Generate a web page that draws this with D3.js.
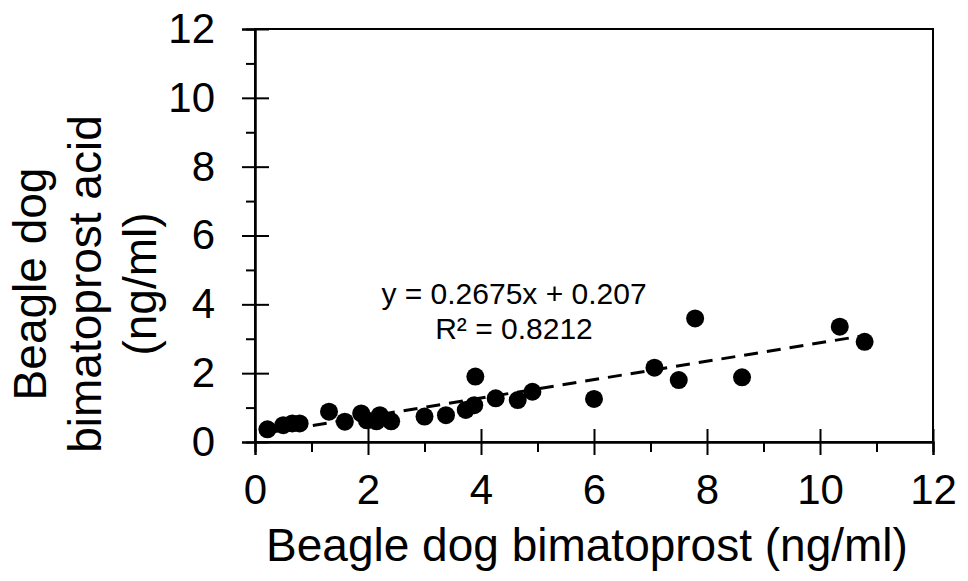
<!DOCTYPE html>
<html>
<head>
<meta charset="utf-8">
<script src="https://cdn.jsdelivr.net/npm/d3@7"></script>
<style>
  body { margin: 0; background: #fff; }
  svg text { font-family: "Liberation Sans", Arial, sans-serif; fill: #000; }
</style>
</head>
<body>
<div id="chart"></div>
<script>
// scatter of bimatoprost vs bimatoprost acid
var bimatoprost = [0.22, 0.50, 0.66, 0.79, 1.31, 1.59, 1.88, 1.98, 2.15, 2.21, 2.41,
  3.00, 3.38, 3.73, 3.88, 3.90, 4.26, 4.65, 4.91, 6.00, 7.07, 7.50, 7.79, 8.62, 10.35, 10.79];
var acid = [0.37, 0.49, 0.54, 0.54, 0.88, 0.59, 0.83, 0.63, 0.60, 0.78, 0.60,
  0.74, 0.78, 0.93, 1.07, 1.90, 1.27, 1.22, 1.46, 1.25, 2.16, 1.80, 3.59, 1.88, 3.35, 2.91];

var majorTicks = [0, 2, 4, 6, 8, 10, 12];
var minorTicks = [1, 3, 5, 7, 9, 11];

var slope = 0.2675, intercept = 0.207;
var eqLines = ["y = 0.2675x + 0.207", "R\u00b2 = 0.8212"];

var xTitle = "Beagle dog bimatoprost (ng/ml)";
var yTitle = ["Beagle dog", "bimatoprost acid", "(ng/ml)"];

var width = 968, height = 581;

var svg = d3.select("#chart").append("svg")
  .attr("width", width)
  .attr("height", height);

var x = d3.scaleLinear().domain([0, 12]).range([255, 933]);
var y = d3.scaleLinear().domain([0, 12]).range([442, 29]);

// frame
svg.append("rect")
  .attr("x", x(0)).attr("y", y(12))
  .attr("width", x(12) - x(0)).attr("height", y(0) - y(12))
  .attr("fill", "none").attr("stroke", "#000").attr("stroke-width", 2);

// y axis
var yMajor = svg.append("g")
  .attr("transform", "translate(" + x(0) + ",0)")
  .call(d3.axisLeft(y).tickValues(majorTicks).tickSize(13).tickPadding(27).tickFormat(d3.format("d")));
yMajor.selectAll(".tick line").attr("x2", -13).attr("x1", 14);
svg.append("g")
  .attr("transform", "translate(" + x(0) + ",0)")
  .call(d3.axisLeft(y).tickValues(minorTicks).tickSize(9).tickFormat(""));

// x axis
var xMajor = svg.append("g")
  .attr("transform", "translate(0," + y(0) + ")")
  .call(d3.axisBottom(x).tickValues(majorTicks).tickSize(13).tickPadding(19).tickFormat(d3.format("d")));
xMajor.selectAll(".tick line").attr("y1", -13).attr("y2", 13);
svg.append("g")
  .attr("transform", "translate(0," + y(0) + ")")
  .call(d3.axisBottom(x).tickValues(minorTicks).tickSize(10).tickFormat(""));

svg.selectAll(".domain").attr("stroke-width", 2);
svg.selectAll(".tick line").attr("stroke-width", 2);
svg.selectAll(".tick text")
  .style("font-size", "42px")
  .style("font-family", "'Liberation Sans', Arial, sans-serif");

// trendline over the data range
var xr = d3.extent(bimatoprost);
svg.append("line")
  .attr("x1", x(xr[0])).attr("y1", y(slope * xr[0] + intercept))
  .attr("x2", x(xr[1])).attr("y2", y(slope * xr[1] + intercept))
  .attr("stroke", "#000")
  .attr("stroke-width", 3)
  .attr("stroke-dasharray", "14,9");

// points
svg.append("g")
  .selectAll("circle")
  .data(bimatoprost)
  .enter().append("circle")
  .attr("cx", function(d) { return x(d); })
  .attr("cy", function(d, i) { return y(acid[i]); })
  .attr("r", 9)
  .attr("fill", "#000");

// equation
svg.append("g").selectAll("text")
  .data(eqLines)
  .enter().append("text")
  .attr("x", 514)
  .attr("y", function(d, i) { return 304 + i * 35; })
  .attr("text-anchor", "middle")
  .style("font-size", "30px")
  .text(function(d) { return d; });

// axis titles
svg.append("text")
  .attr("x", 587).attr("y", 561)
  .attr("text-anchor", "middle")
  .style("font-size", "46px")
  .text(xTitle);

svg.append("g")
  .attr("transform", "translate(0,284) rotate(-90)")
  .selectAll("text")
  .data(yTitle)
  .enter().append("text")
  .attr("x", 0)
  .attr("y", function(d, i) { return 46 + i * 55; })
  .attr("text-anchor", "middle")
  .style("font-size", "46px")
  .text(function(d) { return d; });
</script>
</body>
</html>
